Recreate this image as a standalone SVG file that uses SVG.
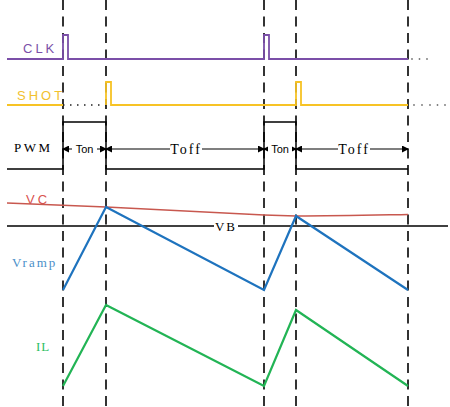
<svg xmlns="http://www.w3.org/2000/svg" width="450" height="407" viewBox="0 0 450 407">
<defs>
<style>
.grid{stroke:#333;stroke-width:2;stroke-dasharray:10 6.5;fill:none}
.lbl{font-family:"Liberation Sans",Arial,sans-serif;font-size:13px;letter-spacing:3px}
.ser{font-family:"Liberation Serif","Times New Roman",serif;font-size:13px}
.w{fill:none;stroke-linejoin:miter}
.arr{stroke:#000;stroke-width:1.2;fill:none}
.t{font-family:"Liberation Serif","Times New Roman",serif;font-size:14px;fill:#000}
.ton{font-family:"Liberation Sans",Arial,sans-serif;font-size:11px;fill:#000}
.dot{fill:#777}
</style>
<marker id="ah" markerWidth="7" markerHeight="7" refX="6" refY="3.5" orient="auto-start-reverse" markerUnits="userSpaceOnUse">
<path d="M0,0 L7,3.5 L0,7 Z" fill="#000"/>
</marker>
</defs>
<rect width="450" height="407" fill="#fff"/>

<g id="grid">
<line class="grid" x1="63" y1="0" x2="63" y2="407"/>
<line class="grid" x1="106" y1="0" x2="106" y2="407"/>
<line class="grid" x1="264" y1="0" x2="264" y2="407"/>
<line class="grid" x1="296" y1="0" x2="296" y2="407"/>
<line class="grid" x1="408" y1="0" x2="408" y2="407"/>
</g>

<g id="clk">
<text class="lbl" x="23" y="53" fill="#7B4FA8">CLK</text>
<polyline class="w" stroke="#7B4FA8" stroke-width="1.8" points="7,59 63,59 63,35 68,35 68,59 264,59 264,35 269,35 269,59 408,59"/>
<circle class="dot" cx="412" cy="59" r="0.9"/><circle class="dot" cx="419.5" cy="59" r="0.9"/><circle class="dot" cx="427" cy="59" r="0.9"/>
</g>

<g id="shot">
<text class="lbl" x="17" y="100" fill="#F2C12E">SHOT</text>
<polyline class="w" stroke="#F7C325" stroke-width="1.8" points="7,105 63,105"/>
<line x1="63" y1="105" x2="106" y2="105" stroke="#222" stroke-width="1.5" stroke-dasharray="1.5 5.5"/>
<polyline class="w" stroke="#F7C325" stroke-width="1.8" points="106,105 106,82 111,82 111,105 296,105 296,82 301,82 301,105 408,105"/>
<circle class="dot" cx="414" cy="105" r="0.9"/><circle class="dot" cx="422" cy="105" r="0.9"/><circle class="dot" cx="430" cy="105" r="0.9"/><circle class="dot" cx="437.5" cy="105" r="0.9"/><circle class="dot" cx="445" cy="105" r="0.9"/>
</g>

<g id="pwm">
<text class="ser" x="14" y="152" fill="#000" letter-spacing="2.5">PWM</text>
<polyline class="w" stroke="#000" stroke-width="1.5" points="7,169 63,169 63,122 106,122 106,169 264,169 264,122 296,122 296,169 408,169"/>
</g>

<g id="connectors">
<line class="arr" x1="63" y1="149" x2="106" y2="149" marker-start="url(#ah)" marker-end="url(#ah)"/>
<line class="arr" x1="106" y1="149" x2="264" y2="149" marker-start="url(#ah)" marker-end="url(#ah)"/>
<line class="arr" x1="264" y1="149" x2="296" y2="149" marker-start="url(#ah)" marker-end="url(#ah)"/>
<line class="arr" x1="296" y1="149" x2="408" y2="149" marker-start="url(#ah)" marker-end="url(#ah)"/>
</g>

<g id="ton1">
<rect x="72" y="142" width="25" height="13" fill="#fff"/>
<text class="ton" x="84.5" y="153" text-anchor="middle">Ton</text>
</g>
<g id="toff1">
<rect x="170" y="140" width="32" height="16" fill="#fff"/>
<text class="t" x="186" y="154" text-anchor="middle" letter-spacing="2">Toff</text>
</g>
<g id="ton2">
<rect x="268" y="142" width="24" height="13" fill="#fff"/>
<text class="ton" x="280" y="153" text-anchor="middle">Ton</text>
</g>
<g id="toff2">
<rect x="338" y="140" width="32" height="16" fill="#fff"/>
<text class="t" x="354" y="154" text-anchor="middle" letter-spacing="2">Toff</text>
</g>

<g id="vc">
<text class="lbl" x="26" y="204" fill="#D9534F">VC</text>
<path class="w" stroke="#C8584F" stroke-width="1.5" d="M7,203 L106,207 C180,211 225,213 264,215 L296,216 C340,216 380,215 408,214.5"/>
</g>

<g id="vb">
<line x1="7" y1="226" x2="214" y2="226" stroke="#000" stroke-width="1.5"/>
<text class="ser" x="226" y="231" text-anchor="middle" font-size="14" letter-spacing="2">VB</text>
<line x1="238" y1="226" x2="448" y2="226" stroke="#000" stroke-width="1.5"/>
</g>

<g id="vramp">
<text class="ser" x="12" y="267" fill="#4A8FC9" letter-spacing="2">Vramp</text>
<polyline class="w" stroke="#1E73BE" stroke-width="2.2" points="63,290 106,207 264,290 296,216 408,290"/>
</g>

<g id="il">
<text class="ser" x="36" y="351" fill="#2DBE5F" letter-spacing="1">IL</text>
<polyline class="w" stroke="#22B455" stroke-width="2.2" points="63,386 106,305 264,386 296,310 408,386"/>
</g>
</svg>
